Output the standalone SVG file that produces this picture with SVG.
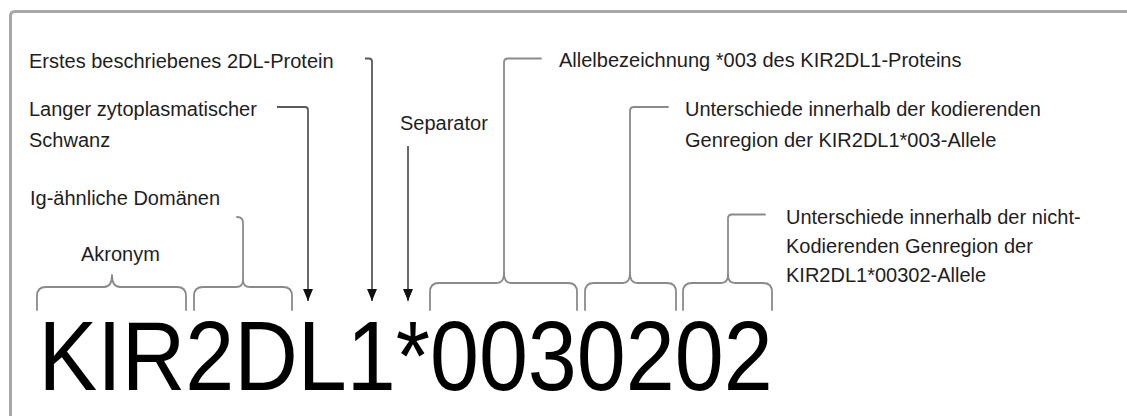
<svg xmlns="http://www.w3.org/2000/svg" width="1127" height="416" viewBox="0 0 1127 416">
<style>
.lbl{font-family:"Liberation Sans",Arial,sans-serif;font-size:20px;fill:#1e1e1e}
.big{font-family:"Liberation Sans",Arial,sans-serif;font-size:98px;fill:#000}
.br{fill:none;stroke:#8a8a8a;stroke-width:1.8;stroke-linecap:round;stroke-linejoin:round}
.ar{fill:none;stroke:#5a5a5a;stroke-width:1.8}
.frame{fill:none;stroke:#a8a8a8;stroke-width:3}
</style>
<defs>
<marker id="ah" viewBox="0 0 12 10" refX="12" refY="5" markerWidth="12" markerHeight="10" markerUnits="userSpaceOnUse" orient="auto">
<path d="M0,0 L12,5 L0,10 z" fill="#111"/>
</marker>
</defs>
<rect width="1127" height="416" fill="#fff"/>
<path class="frame" d="M10.5,416 V16 Q10.5,11.5 15,11.5 H1127"/>

<g id="connectors">
<path class="ar" d="M365,58.5 H369 Q372,58.5 372,61.5 V301" marker-end="url(#ah)"/>
<path class="ar" d="M277,107 H305 Q308,107 308,110 V301" marker-end="url(#ah)"/>
<path class="ar" d="M408,146 V301" marker-end="url(#ah)"/>
<path class="br" d="M541,58.5 H508 Q504,58.5 504,62.5 V273"/>
<path class="br" d="M668,107 H634 Q630,107 630,111 V273"/>
<path class="br" d="M765,214.5 H732 Q728,214.5 728,218.5 V277"/>
<path class="br" d="M237,217 Q243,217 243,223 V280"/>
</g>

<g id="brace-akronym">
<path class="br" d="M37,310 V296 Q37,287 46,287 H104 Q112,287 112,275 Q112,287 120,287 H177 Q186,287 186,296 V310"/>
</g>
<g id="brace-ig">
<path class="br" d="M194,310 V296 Q194,287 203,287 H236 Q243,287 243,280 Q243,287 250,287 H283 Q292,287 292,296 V310"/>
</g>
<g id="brace-allel">
<path class="br" d="M430,310 V292 Q430,283 439,283 H497 Q504,283 504,273 Q504,283 511,283 H568 Q577,283 577,292 V310"/>
</g>
<g id="brace-kod">
<path class="br" d="M585,310 V292 Q585,283 594,283 H623 Q630,283 630,273 Q630,283 637,283 H667 Q676,283 676,292 V310"/>
</g>
<g id="brace-nichtkod">
<path class="br" d="M683,310 V292 Q683,283 692,283 H721 Q728,283 728,275 Q728,283 735,283 H763 Q772,283 772,292 V310"/>
</g>

<g id="label-erstes"><text class="lbl" x="29" y="67.5">Erstes beschriebenes 2DL-Protein</text></g>
<g id="label-langer"><text class="lbl" x="29" y="116">Langer zytoplasmatischer</text><text class="lbl" x="29" y="147">Schwanz</text></g>
<g id="label-ig"><text class="lbl" x="30" y="204.5">Ig-ähnliche Domänen</text></g>
<g id="label-akronym"><text class="lbl" x="81" y="261">Akronym</text></g>
<g id="label-separator"><text class="lbl" x="400" y="130">Separator</text></g>
<g id="label-allel"><text class="lbl" x="559" y="67">Allelbezeichnung *003 des KIR2DL1-Proteins</text></g>
<g id="label-kod"><text class="lbl" x="685" y="116">Unterschiede innerhalb der kodierenden</text><text class="lbl" x="685" y="147">Genregion der KIR2DL1*003-Allele</text></g>
<g id="label-nichtkod"><text class="lbl" x="786" y="224">Unterschiede innerhalb der nicht-</text><text class="lbl" x="786" y="253">Kodierenden Genregion der</text><text class="lbl" x="786" y="282">KIR2DL1*00302-Allele</text></g>
<g id="name"><text class="big" x="38.6" y="390" textLength="734" lengthAdjust="spacingAndGlyphs">KIR2DL1*0030202</text></g>
</svg>
